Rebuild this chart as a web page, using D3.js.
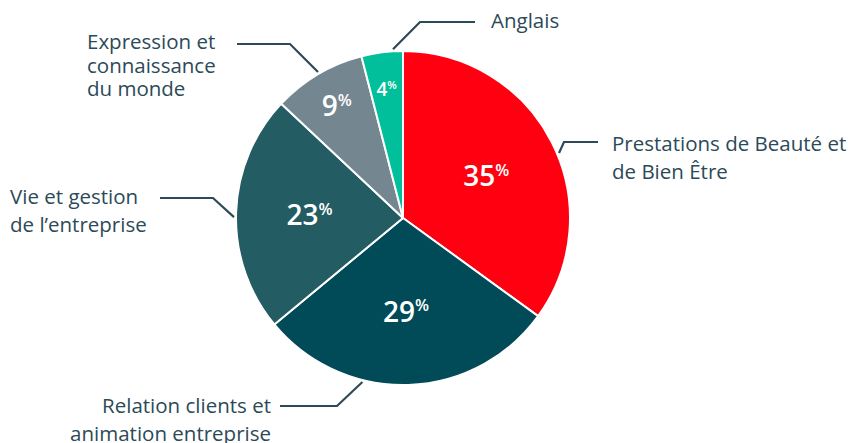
<!DOCTYPE html>
<html>
<head>
<meta charset="utf-8">
<script src="https://cdn.jsdelivr.net/npm/d3@7"></script>
<style>
  html, body { margin: 0; padding: 0; background: #fff; }
  svg { display: block; }
  text { font-family: "Open Sans", Lato, sans-serif; }
</style>
</head>
<body>
<svg id="chart" width="858" height="443"></svg>
<script>
// ---- Data ----
const categories = [
  "Prestations de Beauté et de Bien Être",
  "Relation clients et animation entreprise",
  "Vie et gestion de l’entreprise",
  "Expression et connaissance du monde",
  "Anglais"
];
const values = [35, 29, 23, 9, 4];
const labelLines = [
  ["Prestations de Beauté et", "de Bien Être"],
  ["Relation clients et", "animation entreprise"],
  ["Vie et gestion", "de l’entreprise"],
  ["Expression et", "connaissance", "du monde"],
  ["Anglais"]
];
const colors = ["#FF0010", "#014A57", "#235C63", "#748690", "#00BF9A"];

// ---- Layout (not data) ----
const W = 858, H = 443;
const cx = 403, cy = 218, R = 167;
const textColor = "#2C4A57";
// ty = first baseline
const leaders = [
  { a: 67.4,  elbow: [564, 142], end: [598, 142], tx: 612, ty: 151, anchor: "start", lh: 27.5 },
  { a: 193.9, elbow: [337, 406], end: [280, 406], tx: 271, ty: 413, anchor: "end",   lh: 27.5 },
  { a: 270.3, elbow: [213, 198], end: [160, 198], tx: 10,  ty: 204, anchor: "start", lh: 28 },
  { a: 329.8, elbow: [290, 44],  end: [237, 44],  tx: 87,  ty: 49,  anchor: "start", lh: 23.5 },
  { a: 356.6, elbow: [420, 22],  end: [475, 22],  tx: 491, ty: 28,  anchor: "start", lh: 27 }
];

const svg = d3.select("#chart");
const g = svg.append("g").attr("transform", `translate(${cx},${cy})`);

const pie = d3.pie().value(d => d).sort(null);
const arcs = pie(values);
const arc = d3.arc().innerRadius(0).outerRadius(R);

g.selectAll("path.slice")
  .data(arcs)
  .join("path")
  .attr("class", "slice")
  .attr("d", arc)
  .attr("fill", (d, i) => colors[i])
  .attr("stroke", "#fff")
  .attr("stroke-width", 2)
  .attr("stroke-linejoin", "round");

const total = d3.sum(values);
g.selectAll("text.pct")
  .data(arcs)
  .join("text")
  .attr("class", "pct")
  .each(function(d) {
    const frac = d.value / total;
    const rr = frac >= 0.2 ? R * 0.56 : R * 0.78;
    const mid = (d.startAngle + d.endAngle) / 2;
    const x = Math.sin(mid) * rr, y = -Math.cos(mid) * rr;
    const fs = d.value < 5 ? 19 : 28;
    const t = d3.select(this)
      .attr("x", x)
      .attr("y", y + fs * 0.36)
      .attr("text-anchor", "middle")
      .attr("fill", "#fff")
      .attr("font-weight", 600)
      .attr("font-size", fs);
    t.append("tspan").text(d.value);
    t.append("tspan")
      .attr("font-size", fs * 0.58)
      .attr("dy", -fs * 0.36)
      .text("%");
  });

const lg = svg.append("g");
leaders.forEach((L, i) => {
  const ang = L.a * Math.PI / 180;
  const sx = cx + Math.sin(ang) * (R + 2), sy = cy - Math.cos(ang) * (R + 2);
  lg.append("polyline")
    .attr("points", [[sx, sy], L.elbow, L.end].map(p => p.join(",")).join(" "))
    .attr("fill", "none")
    .attr("stroke", textColor)
    .attr("stroke-width", 2.2);
  const t = lg.append("text")
    .attr("text-anchor", L.anchor)
    .attr("fill", textColor)
    .attr("font-size", 20.5);
  labelLines[i].forEach((line, j) => {
    t.append("tspan")
      .attr("x", L.tx)
      .attr("y", L.ty + j * L.lh)
      .text(line);
  });
});
</script>
</body>
</html>
